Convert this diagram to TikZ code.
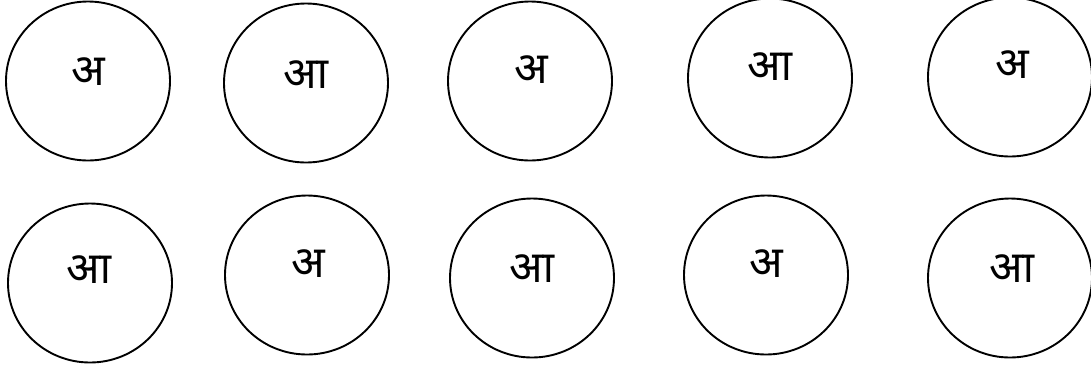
\documentclass[tikz,border=0pt]{standalone}
\usepackage{fontspec}
\newfontfamily\devfont[Script=Devanagari]{Noto Sans}
\usetikzlibrary{shapes.geometric}

\tikzset{
  ring/.style={draw, line width=1.9pt, ellipse, inner sep=0pt,
               minimum width=164pt, minimum height=159pt},
  letter/.style={anchor=base, inner sep=0pt, font=\devfont\fontsize{44}{44}\selectfont}
}

\begin{document}
\begin{tikzpicture}[x=1pt, y=-1pt]
    \useasboundingbox (0,0) rectangle (1091,368);

    % Top row
    \node[ring] (c1) at (88,81) {};
    \node[ring] (c2) at (306,83) {};
    \node[ring] (c3) at (530,81) {};
    \node[ring] (c4) at (770,78) {};
    \node[ring] (c5) at (1010,77) {};

    % Bottom row
    \node[ring] (c6) at (90,283) {};
    \node[ring] (c7) at (307,275) {};
    \node[ring] (c8) at (532,278) {};
    \node[ring] (c9) at (766,275) {};
    \node[ring] (c10) at (1010,278) {};

    % Letters
    \node[letter] (t1) at (88,85) {अ};
    \node[letter] (t2) at (306,88) {आ};
    \node[letter] (t3) at (531,83) {अ};
    \node[letter] (t4) at (770,80) {आ};
    \node[letter] (t5) at (1012,78) {अ};
    \node[letter] (t6) at (89,283) {आ};
    \node[letter] (t7) at (308,277) {अ};
    \node[letter] (t8) at (532,282) {आ};
    \node[letter] (t9) at (766,277) {अ};
    \node[letter] (t10) at (1012,282) {आ};

\end{tikzpicture}
\end{document}
